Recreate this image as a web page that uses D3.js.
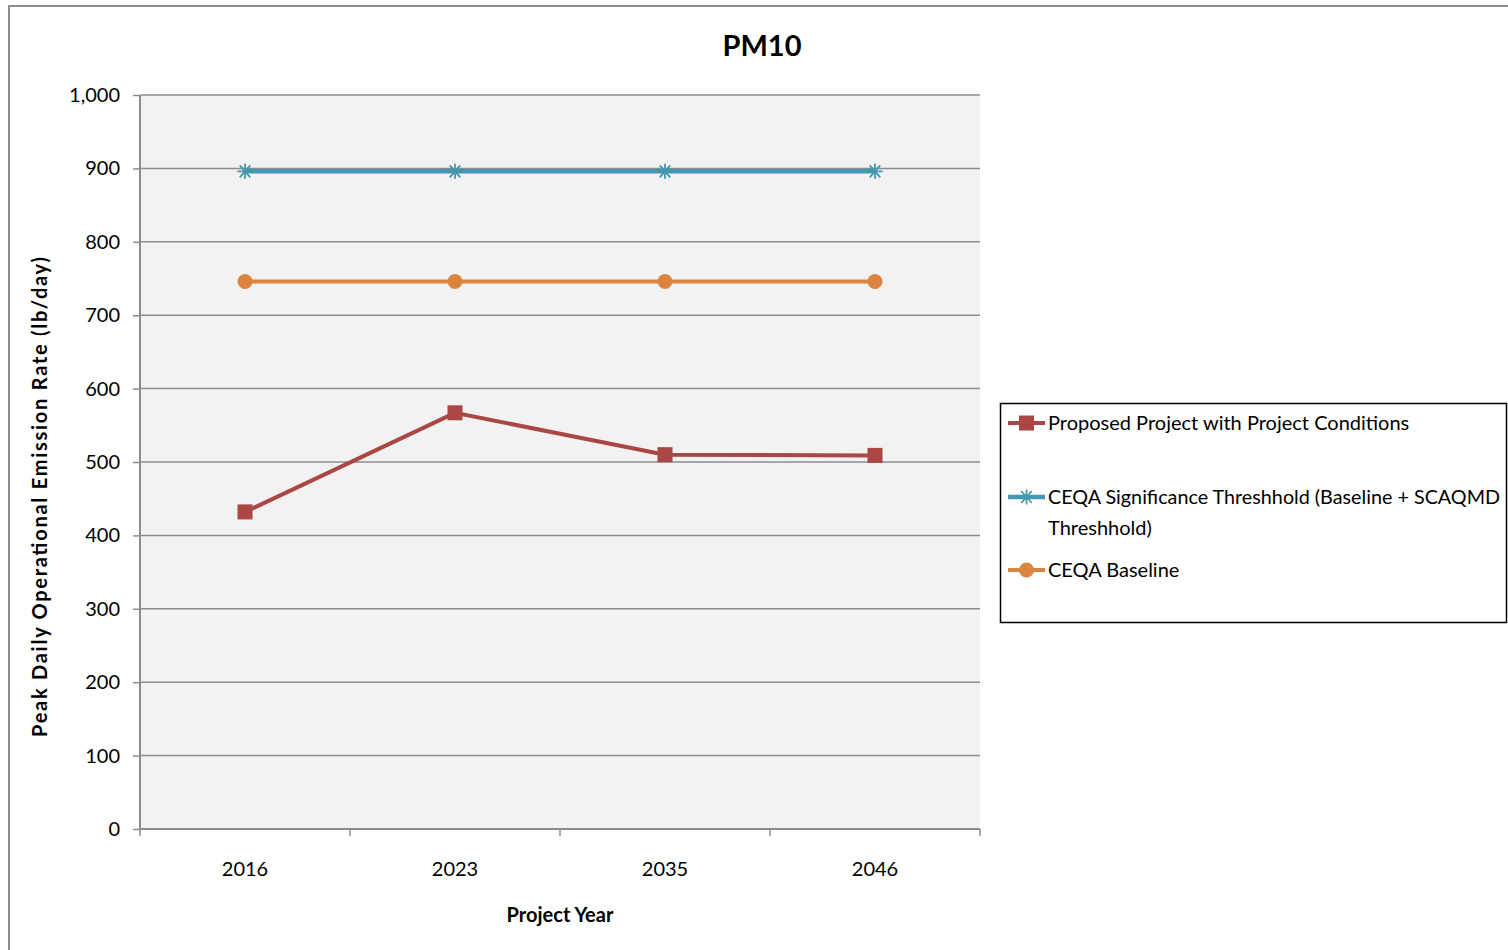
<!DOCTYPE html>
<html>
<head>
<meta charset="utf-8">
<script src="https://cdn.jsdelivr.net/npm/d3@7"></script>
<style>
  html, body { margin: 0; padding: 0; background: #fff; }
  svg { display: block; font-family: Lato, "Open Sans", sans-serif; }
</style>
</head>
<body>
<svg id="chart" width="1508" height="950"></svg>
<script>
// Project years on the category axis
const years = ["2016", "2023", "2035", "2046"];

// Peak daily PM10 emission rates (lb/day)
const proposedProject = [432, 567, 510, 509];
const significanceThreshold = [896, 896, 896, 896];
const ceqaBaseline = [746, 746, 746, 746];

const yTicks = [0, 100, 200, 300, 400, 500, 600, 700, 800, 900, 1000];

const seriesNames = [
  "Proposed Project with Project Conditions",
  "CEQA Significance Threshhold (Baseline + SCAQMD Threshhold)",
  "CEQA Baseline"
];

const series = [
  { name: seriesNames[0], values: proposedProject, color: "#AA4643", marker: "square", width: 4 },
  { name: seriesNames[1], values: significanceThreshold, color: "#4198AF", marker: "star", width: 4.5 },
  { name: seriesNames[2], values: ceqaBaseline, color: "#DB843D", marker: "circle", width: 4 }
];

const svg = d3.select("#chart");

// outer chart frame
svg.append("path")
  .attr("d", "M9,950 V6 H1508")
  .attr("fill", "none")
  .attr("stroke", "#8c8c8c")
  .attr("stroke-width", 2);

const plot = { left: 140, right: 980, top: 95, bottom: 829 };

const x = d3.scaleBand().domain(years).range([plot.left, plot.right]).padding(0);
const y = d3.scaleLinear().domain([0, 1000]).range([plot.bottom, plot.top]);

// plot background
svg.append("rect")
  .attr("x", plot.left).attr("y", plot.top)
  .attr("width", plot.right - plot.left).attr("height", plot.bottom - plot.top)
  .attr("fill", "#f2f2f2");

// horizontal gridlines
svg.append("g")
  .selectAll("line")
  .data(yTicks.filter(d => d > 0))
  .join("line")
  .attr("x1", plot.left).attr("x2", plot.right)
  .attr("y1", d => y(d)).attr("y2", d => y(d))
  .attr("stroke", "#8c8c8c").attr("stroke-width", 1.5);

// y axis
const yAxis = svg.append("g")
  .attr("transform", `translate(${plot.left},0)`)
  .call(d3.axisLeft(y).tickValues(yTicks).tickSize(7).tickPadding(13)
    .tickFormat(d3.format(",")));
yAxis.select(".domain").attr("stroke", "#8c8c8c").attr("stroke-width", 2).attr("d", `M0,${plot.top}V${plot.bottom}`);
yAxis.selectAll(".tick line").attr("stroke", "#8c8c8c").attr("stroke-width", 1.5);
yAxis.selectAll(".tick text")
  .attr("fill", "#000").attr("font-size", 20).attr("font-family", "Lato, sans-serif");

// x axis with ticks on the category boundaries
const xAxis = svg.append("g")
  .attr("transform", `translate(0,${plot.bottom})`);
xAxis.append("line")
  .attr("x1", plot.left).attr("x2", plot.right)
  .attr("stroke", "#8c8c8c").attr("stroke-width", 2);
const boundaries = years.map(d => x(d)).concat([x(years[years.length - 1]) + x.bandwidth()]);
xAxis.selectAll("line.tick")
  .data(boundaries)
  .join("line")
  .attr("class", "tick")
  .attr("x1", d => d).attr("x2", d => d)
  .attr("y1", 0).attr("y2", 7)
  .attr("stroke", "#8c8c8c").attr("stroke-width", 1.5);
xAxis.selectAll("text")
  .data(years)
  .join("text")
  .attr("x", d => x(d) + x.bandwidth() / 2)
  .attr("y", 47)
  .attr("text-anchor", "middle")
  .attr("font-size", 20)
  .attr("fill", "#000")
  .text(d => d);

const cx = d => x(d) + x.bandwidth() / 2;

// marker drawing
function drawMarker(g, type, color, px, py) {
  if (type === "square") {
    g.append("rect")
      .attr("x", px - 7.5).attr("y", py - 7.5).attr("width", 15).attr("height", 15)
      .attr("fill", color);
  } else if (type === "circle") {
    g.append("circle").attr("cx", px).attr("cy", py).attr("r", 7.5).attr("fill", color);
  } else if (type === "star") {
    const r = 7.5;
    const path = d3.path();
    path.moveTo(px - r, py); path.lineTo(px + r, py);
    path.moveTo(px - r * 0.7, py - r * 0.8); path.lineTo(px + r * 0.7, py + r * 0.8);
    path.moveTo(px - r * 0.7, py + r * 0.8); path.lineTo(px + r * 0.7, py - r * 0.8);
    path.moveTo(px, py - r); path.lineTo(px, py + r);
    g.append("path").attr("d", path.toString())
      .attr("stroke", color).attr("stroke-width", 1.8).attr("fill", "none");
  }
}

// series lines and markers (baseline, threshold, then proposed on top)
const line = d3.line().x((d, i) => cx(years[i])).y(d => y(d));
const drawOrder = [series[2], series[1], series[0]];
drawOrder.forEach(s => {
  const g = svg.append("g");
  g.append("path")
    .attr("d", line(s.values))
    .attr("fill", "none")
    .attr("stroke", s.color)
    .attr("stroke-width", s.width);
  s.values.forEach((v, i) => drawMarker(g, s.marker, s.color, cx(years[i]), y(v)));
});

// title
svg.append("text")
  .attr("x", 762).attr("y", 56)
  .attr("text-anchor", "middle")
  .attr("font-size", 29).attr("font-weight", "bold")
  .attr("fill", "#000")
  .text("PM10");

// axis titles
svg.append("text")
  .attr("transform", "translate(47,497) rotate(-90)")
  .attr("text-anchor", "middle")
  .attr("font-size", 20).attr("font-weight", "bold")
  .attr("textLength", 480).attr("lengthAdjust", "spacing")
  .attr("fill", "#000")
  .text("Peak Daily Operational Emission Rate (lb/day)");

svg.append("text")
  .attr("x", 560).attr("y", 922)
  .attr("text-anchor", "middle")
  .attr("font-size", 20).attr("font-weight", "bold")
  .attr("fill", "#000")
  .text("Project Year");

// legend
const legend = svg.append("g");
legend.append("rect")
  .attr("x", 1000.5).attr("y", 403.5).attr("width", 506).attr("height", 219)
  .attr("fill", "#fff").attr("stroke", "#000").attr("stroke-width", 1.5);

const legendRows = [
  { s: series[0], y: 423, lines: ["Proposed Project with Project Conditions"] },
  { s: series[1], y: 497, lines: ["CEQA Significance Threshhold (Baseline + SCAQMD", "Threshhold)"] },
  { s: series[2], y: 570, lines: ["CEQA Baseline"] }
];
legendRows.forEach(r => {
  legend.append("line")
    .attr("x1", 1008).attr("x2", 1045)
    .attr("y1", r.y).attr("y2", r.y)
    .attr("stroke", r.s.color).attr("stroke-width", r.s.width);
  drawMarker(legend, r.s.marker, r.s.color, 1026.5, r.y);
  r.lines.forEach((t, i) => {
    const txt = legend.append("text")
      .attr("x", 1048).attr("y", r.y + 7 + i * 31)
      .attr("font-size", 20)
      .attr("fill", "#000")
      .text(t);
    if (t.length > 42) txt.attr("textLength", 452).attr("lengthAdjust", "spacingAndGlyphs");
  });
});
</script>
</body>
</html>
